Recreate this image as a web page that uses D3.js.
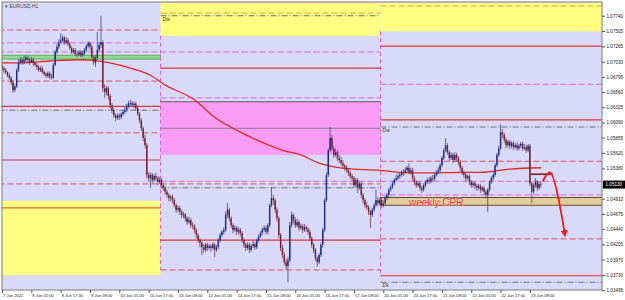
<!DOCTYPE html>
<html>
<head>
<meta charset="utf-8">
<script src="https://cdn.jsdelivr.net/npm/d3@7"></script>
<style>
  body { margin: 0; background: #fff; }
  svg { display: block; }
  text { font-family: "Liberation Sans", Arial, sans-serif; }
</style>
</head>
<body>
<div class="chart"></div>
<script>
// EURUSD H1 candles, one array per trading week: [open, high, low, close]
var weekA = [
  [1.0696,1.0699,1.0688,1.0693],[1.0693,1.0696,1.0685,1.0690],[1.0690,1.0693,1.0684,1.0687],[1.0687,1.0688,1.0679,1.0682],
  [1.0682,1.0685,1.0675,1.0678],[1.0678,1.0681,1.0667,1.0671],[1.0671,1.0675,1.0655,1.0659],[1.0659,1.0668,1.0656,1.0665],
  [1.0665,1.0693,1.0662,1.0690],[1.0690,1.0707,1.0687,1.0702],[1.0702,1.0710,1.0699,1.0706],[1.0706,1.0709,1.0698,1.0702],
  [1.0702,1.0712,1.0699,1.0706],[1.0706,1.0713,1.0702,1.0709],[1.0709,1.0712,1.0701,1.0706],[1.0706,1.0709,1.0698,1.0702],
  [1.0702,1.0710,1.0701,1.0706],[1.0706,1.0709,1.0696,1.0701],[1.0701,1.0704,1.0695,1.0698],[1.0698,1.0701,1.0690,1.0695],
  [1.0695,1.0698,1.0687,1.0690],[1.0690,1.0696,1.0687,1.0693],[1.0693,1.0696,1.0684,1.0687],[1.0687,1.0690,1.0681,1.0684],
  [1.0684,1.0687,1.0678,1.0681],[1.0681,1.0688,1.0678,1.0685],[1.0685,1.0688,1.0676,1.0679],[1.0679,1.0684,1.0675,1.0678],
  [1.0678,1.0701,1.0676,1.0698],[1.0698,1.0721,1.0696,1.0718],[1.0718,1.0730,1.0715,1.0726],[1.0726,1.0738,1.0722,1.0733],
  [1.0733,1.0747,1.0730,1.0736],[1.0736,1.0744,1.0733,1.0740],[1.0740,1.0743,1.0729,1.0733],[1.0733,1.0741,1.0730,1.0736],
  [1.0736,1.0740,1.0727,1.0730],[1.0730,1.0733,1.0721,1.0724],[1.0724,1.0727,1.0715,1.0718],[1.0718,1.0724,1.0715,1.0721],
  [1.0721,1.0724,1.0712,1.0715],[1.0715,1.0720,1.0710,1.0714],[1.0714,1.0721,1.0712,1.0718],[1.0718,1.0721,1.0710,1.0713],
  [1.0713,1.0720,1.0710,1.0716],[1.0716,1.0724,1.0713,1.0721],[1.0721,1.0730,1.0718,1.0727],[1.0727,1.0735,1.0724,1.0732],
  [1.0732,1.0733,1.0721,1.0726],[1.0726,1.0729,1.0707,1.0710],[1.0710,1.0713,1.0698,1.0702],[1.0702,1.0713,1.0695,1.0709],
  [1.0709,1.0749,1.0706,1.0721],[1.0721,1.0733,1.0718,1.0729],[1.0729,1.0774,1.0724,1.0733],[1.0733,1.0736,1.0656,1.0662],
  [1.0662,1.0668,1.0647,1.0656],[1.0656,1.0665,1.0651,1.0662],[1.0662,1.0665,1.0644,1.0650],[1.0650,1.0653,1.0631,1.0636],
  [1.0636,1.0639,1.0623,1.0628],[1.0628,1.0631,1.0616,1.0620],[1.0620,1.0623,1.0611,1.0616],[1.0616,1.0623,1.0613,1.0620],
  [1.0620,1.0623,1.0613,1.0617],[1.0617,1.0625,1.0614,1.0622],[1.0622,1.0628,1.0619,1.0625],[1.0625,1.0633,1.0622,1.0628],
  [1.0628,1.0638,1.0625,1.0634],[1.0634,1.0642,1.0631,1.0638],[1.0638,1.0644,1.0634,1.0639],[1.0639,1.0642,1.0633,1.0636],
  [1.0636,1.0641,1.0631,1.0638],[1.0638,1.0641,1.0628,1.0631],[1.0631,1.0634,1.0619,1.0622],[1.0622,1.0625,1.0608,1.0613],
  [1.0613,1.0616,1.0596,1.0600],[1.0600,1.0603,1.0580,1.0585],[1.0585,1.0590,1.0569,1.0574],[1.0574,1.0577,1.0523,1.0528],
  [1.0528,1.0532,1.0517,1.0523],[1.0523,1.0532,1.0508,1.0528],[1.0528,1.0531,1.0515,1.0520],[1.0520,1.0529,1.0517,1.0526],
  [1.0526,1.0531,1.0518,1.0523],[1.0523,1.0526,1.0512,1.0517],[1.0517,1.0525,1.0514,1.0520]
];
var weekB = [
  [1.0520,1.0523,1.0508,1.0512],[1.0512,1.0515,1.0503,1.0508],[1.0508,1.0511,1.0497,1.0502],[1.0502,1.0505,1.0492,1.0497],
  [1.0497,1.0500,1.0487,1.0492],[1.0492,1.0497,1.0487,1.0494],[1.0494,1.0498,1.0484,1.0489],[1.0489,1.0492,1.0478,1.0481],
  [1.0481,1.0484,1.0469,1.0474],[1.0474,1.0481,1.0471,1.0477],[1.0477,1.0480,1.0466,1.0471],[1.0471,1.0474,1.0461,1.0466],
  [1.0466,1.0471,1.0461,1.0467],[1.0467,1.0469,1.0456,1.0461],[1.0461,1.0464,1.0450,1.0455],[1.0455,1.0463,1.0452,1.0458],
  [1.0458,1.0461,1.0446,1.0450],[1.0450,1.0455,1.0444,1.0449],[1.0449,1.0452,1.0438,1.0443],[1.0443,1.0446,1.0430,1.0435],
  [1.0435,1.0438,1.0423,1.0427],[1.0427,1.0430,1.0416,1.0423],[1.0423,1.0426,1.0404,1.0416],[1.0416,1.0421,1.0407,1.0412],
  [1.0412,1.0423,1.0409,1.0420],[1.0420,1.0423,1.0410,1.0415],[1.0415,1.0421,1.0412,1.0418],[1.0418,1.0421,1.0409,1.0415],
  [1.0415,1.0424,1.0412,1.0420],[1.0420,1.0423,1.0401,1.0412],[1.0412,1.0420,1.0409,1.0416],[1.0416,1.0430,1.0413,1.0427],
  [1.0427,1.0438,1.0424,1.0435],[1.0435,1.0443,1.0432,1.0440],[1.0440,1.0447,1.0436,1.0443],[1.0443,1.0471,1.0440,1.0466],
  [1.0466,1.0484,1.0461,1.0474],[1.0474,1.0477,1.0456,1.0461],[1.0461,1.0464,1.0446,1.0450],[1.0450,1.0453,1.0438,1.0443],
  [1.0443,1.0450,1.0440,1.0446],[1.0446,1.0449,1.0435,1.0440],[1.0440,1.0447,1.0436,1.0443],[1.0443,1.0446,1.0433,1.0438],
  [1.0438,1.0441,1.0423,1.0427],[1.0427,1.0430,1.0415,1.0420],[1.0420,1.0423,1.0410,1.0415],[1.0415,1.0424,1.0412,1.0420],
  [1.0420,1.0423,1.0407,1.0412],[1.0412,1.0421,1.0409,1.0418],[1.0418,1.0426,1.0415,1.0421],[1.0421,1.0424,1.0412,1.0416],
  [1.0416,1.0430,1.0413,1.0427],[1.0427,1.0436,1.0424,1.0433],[1.0433,1.0441,1.0430,1.0438],[1.0438,1.0446,1.0435,1.0443],
  [1.0443,1.0450,1.0440,1.0446],[1.0446,1.0449,1.0436,1.0440],[1.0440,1.0453,1.0436,1.0450],[1.0450,1.0484,1.0447,1.0481],
  [1.0481,1.0509,1.0478,1.0492],[1.0492,1.0497,1.0481,1.0489],[1.0489,1.0492,1.0469,1.0474],[1.0474,1.0478,1.0456,1.0461],
  [1.0461,1.0464,1.0430,1.0435],[1.0435,1.0438,1.0410,1.0415],[1.0415,1.0420,1.0399,1.0404],[1.0404,1.0409,1.0389,1.0393],
  [1.0393,1.0398,1.0381,1.0387],[1.0387,1.0401,1.0362,1.0396],[1.0396,1.0455,1.0393,1.0450],[1.0450,1.0471,1.0447,1.0466],
  [1.0466,1.0469,1.0453,1.0458],[1.0458,1.0463,1.0446,1.0450],[1.0450,1.0460,1.0447,1.0455],[1.0455,1.0458,1.0441,1.0446],
  [1.0446,1.0453,1.0443,1.0449],[1.0449,1.0452,1.0438,1.0443],[1.0443,1.0452,1.0440,1.0447],[1.0447,1.0450,1.0440,1.0444],
  [1.0444,1.0447,1.0435,1.0440],[1.0440,1.0443,1.0426,1.0430],[1.0430,1.0433,1.0415,1.0420],[1.0420,1.0423,1.0407,1.0412],
  [1.0412,1.0415,1.0395,1.0399],[1.0399,1.0402,1.0386,1.0393],[1.0393,1.0407,1.0390,1.0404],[1.0404,1.0423,1.0401,1.0420],
  [1.0420,1.0446,1.0416,1.0443],[1.0443,1.0492,1.0440,1.0489],[1.0489,1.0532,1.0486,1.0528],[1.0528,1.0569,1.0525,1.0566],
  [1.0566,1.0602,1.0563,1.0585],[1.0585,1.0590,1.0565,1.0569],[1.0569,1.0573,1.0554,1.0559],[1.0559,1.0568,1.0556,1.0563],
  [1.0563,1.0566,1.0549,1.0554],[1.0554,1.0559,1.0546,1.0551],[1.0551,1.0556,1.0542,1.0546],[1.0546,1.0551,1.0537,1.0542],
  [1.0542,1.0545,1.0534,1.0539],[1.0539,1.0543,1.0531,1.0535],[1.0535,1.0539,1.0526,1.0531],[1.0531,1.0534,1.0522,1.0526],
  [1.0526,1.0529,1.0518,1.0523],[1.0523,1.0526,1.0508,1.0512],[1.0512,1.0523,1.0509,1.0520],[1.0520,1.0523,1.0500,1.0508],
  [1.0508,1.0517,1.0505,1.0514],[1.0514,1.0517,1.0492,1.0497],[1.0497,1.0500,1.0484,1.0489],[1.0489,1.0492,1.0477,1.0481],
  [1.0481,1.0486,1.0474,1.0478],[1.0478,1.0481,1.0466,1.0471],[1.0471,1.0474,1.0446,1.0466],[1.0466,1.0477,1.0463,1.0474],
  [1.0474,1.0484,1.0471,1.0481],[1.0481,1.0505,1.0478,1.0489],[1.0489,1.0494,1.0480,1.0484],[1.0484,1.0492,1.0481,1.0489]
];
var weekC = [
  [1.0489,1.0492,1.0477,1.0481],[1.0481,1.0489,1.0478,1.0484],[1.0484,1.0495,1.0481,1.0492],[1.0492,1.0500,1.0489,1.0497],
  [1.0497,1.0508,1.0494,1.0505],[1.0505,1.0512,1.0502,1.0509],[1.0509,1.0518,1.0506,1.0515],[1.0515,1.0523,1.0512,1.0520],
  [1.0520,1.0528,1.0517,1.0523],[1.0523,1.0531,1.0520,1.0526],[1.0526,1.0532,1.0522,1.0528],[1.0528,1.0535,1.0525,1.0531],
  [1.0531,1.0537,1.0526,1.0532],[1.0532,1.0540,1.0529,1.0535],[1.0535,1.0542,1.0532,1.0539],[1.0539,1.0546,1.0529,1.0532],
  [1.0532,1.0539,1.0528,1.0535],[1.0535,1.0539,1.0518,1.0523],[1.0523,1.0526,1.0512,1.0517],[1.0517,1.0520,1.0508,1.0512],
  [1.0512,1.0518,1.0509,1.0515],[1.0515,1.0518,1.0503,1.0508],[1.0508,1.0511,1.0500,1.0505],[1.0505,1.0515,1.0502,1.0512],
  [1.0512,1.0520,1.0509,1.0517],[1.0517,1.0523,1.0514,1.0520],[1.0520,1.0525,1.0514,1.0518],[1.0518,1.0526,1.0515,1.0523],
  [1.0523,1.0528,1.0517,1.0522],[1.0522,1.0531,1.0518,1.0528],[1.0528,1.0535,1.0525,1.0532],[1.0532,1.0540,1.0529,1.0535],
  [1.0535,1.0546,1.0532,1.0543],[1.0543,1.0557,1.0540,1.0554],[1.0554,1.0569,1.0551,1.0566],[1.0566,1.0585,1.0563,1.0574],
  [1.0574,1.0577,1.0559,1.0563],[1.0563,1.0566,1.0549,1.0554],[1.0554,1.0563,1.0551,1.0559],[1.0559,1.0562,1.0546,1.0551],
  [1.0551,1.0563,1.0548,1.0559],[1.0559,1.0562,1.0549,1.0554],[1.0554,1.0557,1.0543,1.0548],[1.0548,1.0551,1.0534,1.0539],
  [1.0539,1.0542,1.0528,1.0532],[1.0532,1.0535,1.0523,1.0528],[1.0528,1.0531,1.0518,1.0523],[1.0523,1.0529,1.0520,1.0526],
  [1.0526,1.0529,1.0512,1.0517],[1.0517,1.0520,1.0508,1.0512],[1.0512,1.0518,1.0509,1.0515],[1.0515,1.0518,1.0506,1.0511],
  [1.0511,1.0514,1.0503,1.0508],[1.0508,1.0514,1.0505,1.0511],[1.0511,1.0514,1.0500,1.0505],[1.0505,1.0511,1.0502,1.0508],
  [1.0508,1.0511,1.0497,1.0502],[1.0502,1.0505,1.0492,1.0497],[1.0497,1.0508,1.0471,1.0505],[1.0505,1.0520,1.0502,1.0517],
  [1.0517,1.0526,1.0514,1.0523],[1.0523,1.0532,1.0520,1.0528],[1.0528,1.0546,1.0525,1.0543],[1.0543,1.0562,1.0540,1.0559],
  [1.0559,1.0573,1.0556,1.0569],[1.0569,1.0606,1.0566,1.0594],[1.0594,1.0599,1.0585,1.0590],[1.0590,1.0593,1.0577,1.0582],
  [1.0582,1.0585,1.0569,1.0574],[1.0574,1.0582,1.0571,1.0579],[1.0579,1.0582,1.0568,1.0573],[1.0573,1.0580,1.0569,1.0577],
  [1.0577,1.0580,1.0566,1.0571],[1.0571,1.0577,1.0568,1.0574],[1.0574,1.0579,1.0565,1.0569],[1.0569,1.0576,1.0566,1.0573],
  [1.0573,1.0579,1.0569,1.0576],[1.0576,1.0579,1.0565,1.0569],[1.0569,1.0576,1.0566,1.0571],[1.0571,1.0574,1.0562,1.0566],
  [1.0566,1.0576,1.0563,1.0573],[1.0573,1.0576,1.0511,1.0515],[1.0515,1.0518,1.0484,1.0502],[1.0502,1.0515,1.0499,1.0512],
  [1.0512,1.0523,1.0508,1.0517],[1.0517,1.0520,1.0503,1.0508],[1.0508,1.0518,1.0505,1.0514],[1.0514,1.0518,1.0508,1.0513]
];

// moving average, sampled along the bars
var maBars   = [0, 10, 26, 43, 53, 59, 70, 81, 89, 105, 116, 130, 143, 153, 163, 173, 187, 206, 217, 233, 250, 261, 277, 294];
var maValues = [1.0701, 1.0701, 1.0704, 1.0706, 1.0704, 1.0701, 1.0693, 1.0682, 1.0667, 1.0644, 1.0617, 1.0594,
                1.0577, 1.0566, 1.0559, 1.0546, 1.0538, 1.0535, 1.0532, 1.0531, 1.0532, 1.0532, 1.0537, 1.0539];

// pivot levels per week (A, B, C)
var redSolid    = [[1.0634, 1.0551], [1.0693, 1.0427], [1.0727, 1.0613, 1.0372]];
var redDash     = [[1.0752, 1.0673, 1.0593, 1.0514], [1.0514, 1.0381], [1.0549, 1.0429]];
var pinkDash    = [[1.0732, 1.0718], [1.0718, 1.0647, 1.0518], [1.0668, 1.0518, 1.0497]];
var grayDashDot = [[1.0628], [1.0774, 1.0508], [1.0602, 1.0362]];
var yellowZones = [[1.0488, 1.0373], [1.0794, 1.0743], [1.0794, 1.0750]];
var orangeLines = [[1.0477], [1.0778], [1.0789]];
var greenZone   = [1.0713, 1.0707];   // week A
var pinkZone    = [1.0641, 1.0559];   // week B
var pinkZoneMid = 1.0600;
var cprZone     = [1.0493, 1.0481];   // week C
var lineLabels  = [["Dw", 1, 1.0774], ["Dw", 2, 1.0602], ["Dk", 2, 1.0362]];

var weekStart = [-2, 86.5, 206.5];
var weekEnd   = [86.5, 206.5, 330];

var priceTicks = [1.07740, 1.07505, 1.07265, 1.07030, 1.06795, 1.06560, 1.06325, 1.06090, 1.05855,
                  1.05620, 1.05380, 1.04910, 1.04675, 1.04440, 1.04205, 1.03970, 1.03730, 1.03495];
var lastPrice = 1.05130;
var timeLabels = ["7 Jun 2022", "8 Jun 01:00", "8 Jun 17:00", "9 Jun 09:00", "10 Jun 01:00", "10 Jun 17:00",
                  "13 Jun 09:00", "14 Jun 01:00", "14 Jun 17:00", "15 Jun 09:00", "16 Jun 01:00", "16 Jun 17:00",
                  "17 Jun 09:00", "20 Jun 01:00", "20 Jun 17:00", "21 Jun 09:00", "22 Jun 01:00", "22 Jun 17:00",
                  "23 Jun 09:00"];
var timeTickBars = timeLabels.map(function (d, i) { return i * 16; });

// drawn annotations (bar index, price)
var arrowPts = [[295, 1.0518], [299, 1.0532], [307, 1.0437]];
var shelf = [[288.5, 1.0529], [300.5, 1.0529]];

var svgWidth = 625;
var svgHeight = 300;
var margin = { top: 2, right: 23, bottom: 10, left: 2 };
var chartWidth = svgWidth - margin.left - margin.right;   // 600
var chartHeight = svgHeight - margin.top - margin.bottom; // 288

var svg = d3.select(".chart").append("svg")
  .attr("width", svgWidth)
  .attr("height", svgHeight);

var chartGroup = svg.append("g")
  .attr("transform", `translate(${margin.left}, ${margin.top})`);

var xScale = d3.scaleLinear().domain([0, 327]).range([0, 599.4]);
var yScale = d3.scaleLinear().domain([1.03500, 1.07937]).range([288, 1]);

svg.append("defs").append("clipPath").attr("id", "plot")
  .append("rect").attr("width", chartWidth).attr("height", chartHeight);

chartGroup.append("rect")
  .attr("width", chartWidth).attr("height", chartHeight)
  .attr("fill", "#d9d9f9");

var plot = chartGroup.append("g").attr("clip-path", "url(#plot)");

function wx(w, side) { return xScale(side ? weekEnd[w] : weekStart[w]); }

// zones
yellowZones.forEach(function (z, w) {
  plot.append("rect")
    .attr("x", wx(w, 0)).attr("width", wx(w, 1) - wx(w, 0))
    .attr("y", yScale(z[0])).attr("height", yScale(z[1]) - yScale(z[0]))
    .attr("fill", "#ffff80");
});

plot.append("rect")
  .attr("x", wx(1, 0)).attr("width", wx(1, 1) - wx(1, 0))
  .attr("y", yScale(pinkZone[0])).attr("height", yScale(pinkZone[1]) - yScale(pinkZone[0]))
  .attr("fill", "#fb9cf6");

plot.append("rect")
  .attr("x", wx(0, 0)).attr("width", wx(0, 1) - wx(0, 0))
  .attr("y", yScale(greenZone[0])).attr("height", yScale(greenZone[1]) - yScale(greenZone[0]))
  .attr("fill", "#8edc8e").attr("stroke", "#4aa84a").attr("stroke-width", 0.8);

plot.append("rect")
  .attr("x", wx(2, 0)).attr("width", wx(2, 1) - wx(2, 0))
  .attr("y", yScale(cprZone[0])).attr("height", yScale(cprZone[1]) - yScale(cprZone[0]))
  .attr("fill", "#e3cc9c").attr("stroke", "#6b4a2a").attr("stroke-width", 1);

// level lines
function drawLevels(levels, color, dash, width) {
  levels.forEach(function (arr, w) {
    arr.forEach(function (p) {
      plot.append("line")
        .attr("x1", wx(w, 0)).attr("x2", wx(w, 1))
        .attr("y1", yScale(p)).attr("y2", yScale(p))
        .attr("stroke", color).attr("stroke-width", width)
        .attr("stroke-dasharray", dash);
    });
  });
}

// week separators
[1, 2].forEach(function (w) {
  var all = redSolid[w].concat(redDash[w], pinkDash[w]);
  plot.append("line")
    .attr("x1", wx(w, 0)).attr("x2", wx(w, 0))
    .attr("y1", yScale(yellowZones[w][1])).attr("y2", yScale(d3.min(all)))
    .attr("stroke", "#d65fd6").attr("stroke-width", 1).attr("stroke-dasharray", "4,3");
});

drawLevels(orangeLines.slice(0, 1), "#e0662a", null, 1.2);
drawLevels([[], orangeLines[1], orangeLines[2]], "#d9a23c", "6,3", 1);
drawLevels(redSolid, "#e2323c", null, 1.2);
drawLevels(redDash, "#e0505e", "6,3", 1);
drawLevels(pinkDash, "#d863d8", "6,3", 1);
drawLevels(grayDashDot, "#707078", "6,2,1,2", 1);

plot.append("line")
  .attr("x1", wx(1, 0)).attr("x2", wx(1, 1))
  .attr("y1", yScale(pinkZone[0])).attr("y2", yScale(pinkZone[0]))
  .attr("stroke", "#5a5a5a").attr("stroke-width", 1.2);
plot.append("line")
  .attr("x1", wx(1, 0)).attr("x2", wx(1, 1))
  .attr("y1", yScale(pinkZoneMid)).attr("y2", yScale(pinkZoneMid))
  .attr("stroke", "#8a7a90").attr("stroke-width", 1);

lineLabels.forEach(function (d) {
  plot.append("text")
    .attr("x", wx(d[1], 0) + 2).attr("y", yScale(d[2]) + 5)
    .attr("font-size", 5).attr("fill", "#333")
    .text(d[0]);
});

// moving average
plot.append("path")
  .datum(maBars.map(function (b, i) { return [b, maValues[i]]; }))
  .attr("fill", "none").attr("stroke", "#e42626").attr("stroke-width", 1.3)
  .attr("d", d3.line().x(d => xScale(d[0])).y(d => yScale(d[1])).curve(d3.curveMonotoneX));

// candles
var candles = weekA.concat(weekB, weekC);
var cg = plot.append("g");
cg.selectAll("line.wick").data(candles).enter().append("line")
  .attr("class", "wick")
  .attr("x1", (d, i) => xScale(i)).attr("x2", (d, i) => xScale(i))
  .attr("y1", d => yScale(d[1])).attr("y2", d => yScale(d[2]))
  .attr("stroke", d => d[3] >= d[0] ? "#3a4590" : "#7d3a4a").attr("stroke-width", 0.8);
cg.selectAll("rect.body").data(candles).enter().append("rect")
  .attr("class", "body")
  .attr("x", (d, i) => xScale(i) - 0.7).attr("width", 1.4)
  .attr("y", d => yScale(Math.max(d[0], d[3])))
  .attr("height", d => Math.max(0.8, Math.abs(yScale(d[0]) - yScale(d[3]))))
  .attr("fill", d => d[3] >= d[0] ? "#1b2a7a" : "#6e1f2c");

// annotations
plot.append("path")
  .datum(shelf)
  .attr("fill", "none").attr("stroke", "#8a2d2d").attr("stroke-width", 1.8)
  .attr("d", d3.line().x(d => xScale(d[0])).y(d => yScale(d[1])));

svg.append("defs").append("marker")
  .attr("id", "head").attr("viewBox", "0 0 10 10").attr("refX", 5).attr("refY", 5)
  .attr("markerWidth", 4).attr("markerHeight", 4).attr("orient", "auto-start-reverse")
  .append("path").attr("d", "M0,0L10,5L0,10z").attr("fill", "#e81e1e");

plot.append("path")
  .datum(arrowPts)
  .attr("fill", "none").attr("stroke", "#e81e1e").attr("stroke-width", 1.8)
  .attr("marker-end", "url(#head)")
  .attr("d", d3.line().x(d => xScale(d[0])).y(d => yScale(d[1])).curve(d3.curveCatmullRom));

plot.append("text")
  .attr("x", xScale(222)).attr("y", yScale(cprZone[1]) + 0.5)
  .attr("font-size", 10).attr("fill", "#f02a2a")
  .attr("stroke", "#fff").attr("stroke-width", 0.4).attr("paint-order", "stroke")
  .text("weekly CPR");

// frame
chartGroup.append("rect")
  .attr("width", chartWidth).attr("height", chartHeight)
  .attr("fill", "none").attr("stroke", "#7a7a7a").attr("stroke-width", 1);

// title
chartGroup.append("text")
  .attr("x", 3).attr("y", 6).attr("font-size", 5).attr("fill", "#444")
  .text("\u25BE EURUSD,H1");

// axes
var yAxis = d3.axisRight(yScale).tickValues(priceTicks).tickFormat(d3.format(".5f")).tickSize(3).tickPadding(1.5);
var yg = chartGroup.append("g").attr("transform", `translate(${chartWidth}, 0)`).call(yAxis);
yg.select(".domain").remove();
yg.selectAll("text").attr("font-size", 4.6).attr("fill", "#222").style("font-family", "Liberation Sans, Arial");
yg.selectAll("line").attr("stroke", "#555");

var xAxis = d3.axisBottom(xScale).tickValues(timeTickBars).tickFormat((d, i) => timeLabels[i]).tickSize(3).tickPadding(1.5);
var xg = chartGroup.append("g").attr("transform", `translate(0, ${chartHeight})`).call(xAxis);
xg.select(".domain").remove();
xg.selectAll("text").attr("font-size", 4.1).attr("fill", "#222").attr("text-anchor", "start").attr("dx", 0.5)
  .style("font-family", "Liberation Sans, Arial");
xg.selectAll("line").attr("stroke", "#555");

// last price tag
var lp = chartGroup.append("g").attr("transform", `translate(${chartWidth + 1}, ${yScale(lastPrice)})`);
lp.append("rect").attr("x", 0).attr("y", -4).attr("width", 22).attr("height", 8).attr("fill", "#000");
lp.append("text").attr("x", 2.5).attr("y", 1.7).attr("font-size", 4.6).attr("fill", "#fff")
  .text(d3.format(".5f")(lastPrice));
</script>
</body>
</html>
